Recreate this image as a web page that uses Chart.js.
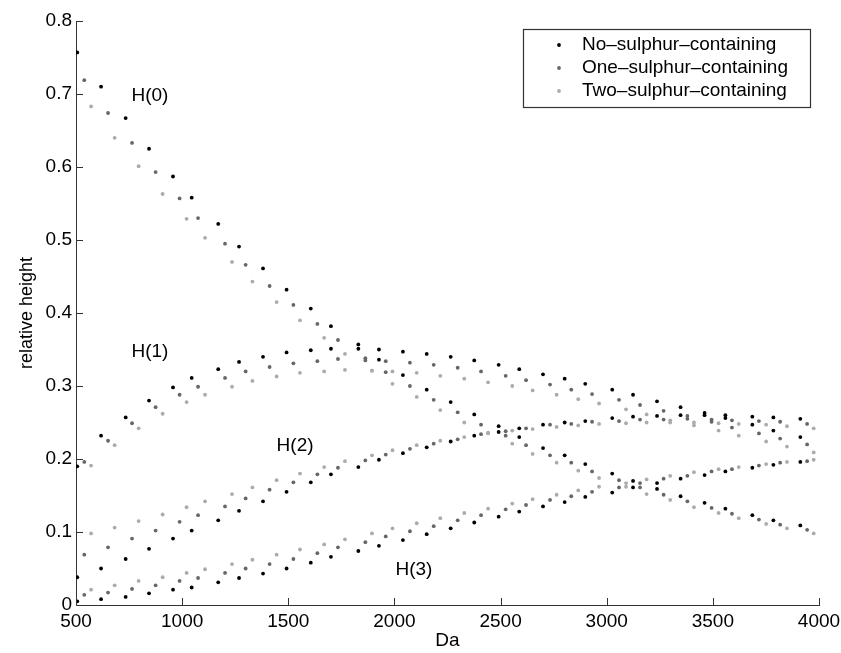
<!DOCTYPE html>
<html><head><meta charset="utf-8">
<script src="https://cdn.jsdelivr.net/npm/chart.js@4.4.0/dist/chart.umd.min.js"></script>
<style>html,body{margin:0;padding:0;background:#fff;}#wrap{width:841px;height:653px;}</style>
</head><body><div id="wrap"><canvas id="c" width="841" height="653"></canvas></div>
<script>
// ---- data ----
const seriesLabels = ['No\u2013sulphur\u2013containing','One\u2013sulphur\u2013containing','Two\u2013sulphur\u2013containing'];
const curveLabels = ['H(0)','H(1)','H(2)','H(3)'];
const curveLabelPos = [[848,0.698],[848,0.347],[1532,0.218],[2092,0.048]];
const xTicks = [500,1000,1500,2000,2500,3000,3500,4000];
const yTicks = [0,0.1,0.2,0.3,0.4,0.5,0.6,0.7,0.8];
const yTickLabels = ['0','0.1','0.2','0.3','0.4','0.5','0.6','0.7','0.8'];

const xNo = [506,618,734,844,957,1045,1170,1268,1381,1492,1606,1701,1830,1927,2040,2152,2265,2376,2491,2588,2700,2802,2899,3026,3124,3237,3348,3461,3559,3686,3785,3912];
const h0No = [0.757,0.710,0.667,0.625,0.587,0.558,0.522,0.491,0.461,0.432,0.406,0.382,0.351,0.336,0.315,0.295,0.278,0.261,0.245,0.230,0.215,0.205,0.193,0.180,0.170,0.159,0.149,0.140,0.132,0.123,0.116,0.109];
const h1No = [0.190,0.232,0.257,0.280,0.298,0.311,0.323,0.333,0.340,0.346,0.349,0.351,0.357,0.350,0.347,0.344,0.340,0.335,0.329,0.323,0.316,0.310,0.303,0.295,0.288,0.279,0.271,0.260,0.256,0.247,0.239,0.230];
const h2No = [0.038,0.050,0.063,0.077,0.091,0.102,0.116,0.129,0.142,0.155,0.168,0.179,0.189,0.199,0.208,0.216,0.224,0.232,0.237,0.242,0.247,0.250,0.252,0.256,0.258,0.259,0.260,0.263,0.260,0.258,0.257,0.255];
const h3No = [0.005,0.008,0.011,0.016,0.021,0.024,0.031,0.037,0.043,0.050,0.058,0.066,0.074,0.081,0.089,0.097,0.105,0.113,0.121,0.128,0.135,0.141,0.148,0.154,0.161,0.167,0.173,0.178,0.183,0.188,0.192,0.196];

const xOne = [539,651,764,875,988,1075,1202,1299,1412,1524,1637,1734,1863,1959,2073,2185,2298,2408,2524,2620,2733,2833,2931,3058,3157,3268,3380,3494,3590,3717,3817,3944];
const h0One = [0.719,0.674,0.633,0.593,0.557,0.530,0.495,0.466,0.437,0.411,0.385,0.363,0.335,0.319,0.300,0.281,0.264,0.247,0.232,0.219,0.205,0.195,0.183,0.171,0.161,0.151,0.142,0.133,0.125,0.117,0.110,0.103];
const h1One = [0.196,0.225,0.249,0.271,0.288,0.299,0.311,0.320,0.326,0.331,0.334,0.337,0.338,0.334,0.332,0.329,0.325,0.320,0.314,0.308,0.302,0.295,0.289,0.281,0.274,0.266,0.259,0.251,0.243,0.235,0.228,0.220];
const h2One = [0.069,0.079,0.091,0.102,0.114,0.123,0.135,0.146,0.158,0.168,0.179,0.188,0.198,0.206,0.214,0.221,0.227,0.234,0.238,0.242,0.247,0.248,0.251,0.252,0.254,0.254,0.255,0.254,0.253,0.252,0.251,0.248];
const h3One = [0.014,0.017,0.022,0.027,0.033,0.037,0.044,0.050,0.056,0.063,0.071,0.079,0.086,0.094,0.101,0.108,0.116,0.123,0.131,0.137,0.144,0.149,0.155,0.161,0.167,0.173,0.177,0.183,0.186,0.191,0.195,0.197];

const xTwo = [571,682,795,908,1021,1108,1235,1331,1445,1555,1669,1767,1894,1991,2105,2216,2329,2441,2555,2651,2764,2866,2964,3091,3188,3299,3411,3527,3622,3751,3849,3975];
const h0Two = [0.683,0.640,0.601,0.563,0.529,0.503,0.470,0.443,0.415,0.390,0.366,0.344,0.321,0.303,0.285,0.267,0.250,0.236,0.221,0.207,0.195,0.184,0.174,0.162,0.152,0.144,0.134,0.126,0.119,0.111,0.105,0.098];
const h1Two = [0.191,0.219,0.242,0.262,0.278,0.288,0.299,0.307,0.313,0.318,0.320,0.322,0.321,0.320,0.318,0.314,0.310,0.305,0.300,0.294,0.288,0.282,0.276,0.268,0.261,0.253,0.246,0.239,0.232,0.224,0.217,0.209];
const h2Two = [0.098,0.106,0.115,0.124,0.134,0.142,0.152,0.161,0.171,0.180,0.189,0.197,0.205,0.212,0.219,0.225,0.230,0.235,0.239,0.241,0.244,0.246,0.248,0.249,0.250,0.250,0.250,0.249,0.248,0.247,0.245,0.242];
const h3Two = [0.021,0.027,0.033,0.038,0.044,0.049,0.056,0.062,0.069,0.076,0.083,0.090,0.098,0.105,0.112,0.119,0.126,0.132,0.139,0.145,0.151,0.157,0.162,0.167,0.172,0.177,0.182,0.186,0.189,0.193,0.196,0.199];

// ---- build ----
const FONT = '"Liberation Sans", Arial, Helvetica, sans-serif';
const colors = ['#000000','#666666','#ababab'];
function pts(xs, curves){ const out=[]; curves.forEach(c=>c.forEach((v,i)=>out.push({x:xs[i],y:v}))); return out; }
const datasets = [
  {label:seriesLabels[0], data:pts(xNo,[h0No,h1No,h2No,h3No])},
  {label:seriesLabels[1], data:pts(xOne,[h0One,h1One,h2One,h3One])},
  {label:seriesLabels[2], data:pts(xTwo,[h0Two,h1Two,h2Two,h3Two])}
].map((d,i)=>Object.assign(d,{backgroundColor:colors[i],borderColor:colors[i],pointRadius:1.9,pointBorderWidth:0,showLine:false,order:-i}));

const inwardTicks = {
  id:'inwardTicks',
  afterDraw(chart){
    const ctx=chart.ctx, xs=chart.scales.x, ys=chart.scales.y, a=chart.chartArea;
    ctx.save(); ctx.strokeStyle='#333'; ctx.lineWidth=1;
    xs.ticks.forEach(t=>{const p=Math.round(xs.getPixelForValue(t.value))+0.5; ctx.beginPath(); ctx.moveTo(p,a.bottom); ctx.lineTo(p,a.bottom-7); ctx.stroke();});
    ys.ticks.forEach(t=>{const p=Math.round(ys.getPixelForValue(t.value))+0.5; ctx.beginPath(); ctx.moveTo(a.left,p); ctx.lineTo(a.left+7,p); ctx.stroke();});
    ctx.restore();
  }
};
const curveText = {
  id:'curveText',
  afterDraw(chart){
    const ctx=chart.ctx, xs=chart.scales.x, ys=chart.scales.y;
    ctx.save(); ctx.fillStyle='#000'; ctx.font='19px '+FONT; ctx.textAlign='center'; ctx.textBaseline='middle';
    curveLabels.forEach((s,i)=>ctx.fillText(s, xs.getPixelForValue(curveLabelPos[i][0]), ys.getPixelForValue(curveLabelPos[i][1])));
    ctx.restore();
  }
};
const boxLegend = {
  id:'boxLegend',
  afterDraw(chart){
    const ctx=chart.ctx;
    ctx.save();
    ctx.fillStyle='#fff'; ctx.fillRect(523,29,287,78);
    ctx.strokeStyle='#333'; ctx.lineWidth=1.2; ctx.strokeRect(523.5,29.5,287,78);
    ctx.font='19px '+FONT; ctx.textBaseline='middle'; ctx.textAlign='left';
    chart.data.datasets.forEach((d,i)=>{
      const y=45+i*23;
      ctx.fillStyle=d.backgroundColor; ctx.beginPath(); ctx.arc(559,y,1.9,0,Math.PI*2); ctx.fill();
      ctx.fillStyle='#000'; ctx.fillText(d.label,582,y);
    });
    ctx.restore();
  }
};

new Chart(document.getElementById('c'), {
  type:'scatter',
  data:{datasets},
  options:{
    responsive:false, animation:false, devicePixelRatio:1,
    layout:{padding:{left:0,right:22,top:21,bottom:0}},
    plugins:{legend:{display:false}, tooltip:{enabled:false}},
    scales:{
      x:{type:'linear', min:500, max:4000,
        afterBuildTicks(s){ s.ticks = xTicks.map(v=>({value:v})); },
        afterFit(s){ s.height=48; s.paddingLeft=0; s.paddingRight=0; },
        grid:{display:false, drawTicks:false},
        border:{display:true, color:'#333', width:1},
        ticks:{color:'#000', font:{family:FONT,size:19}, padding:5, maxRotation:0, autoSkip:false, callback:(v)=>String(v)},
        title:{display:true, text:'Da', color:'#000', font:{family:FONT,size:19}, padding:{top:0,bottom:1}}
      },
      y:{type:'linear', min:0, max:0.8,
        afterBuildTicks(s){ s.ticks = yTicks.map(v=>({value:v})); },
        afterFit(s){ s.width=76; s.paddingTop=0; s.paddingBottom=0; },
        grid:{display:false, drawTicks:false},
        border:{display:true, color:'#333', width:1},
        ticks:{color:'#000', font:{family:FONT,size:19}, padding:4, autoSkip:false, callback:(v,i)=>yTickLabels[yTicks.indexOf(v)] ?? String(v)},
        title:{display:true, text:'relative height', color:'#000', font:{family:FONT,size:18}, padding:{top:16,bottom:0}}
      }
    }
  },
  plugins:[inwardTicks, curveText, boxLegend]
});
</script></body></html>
